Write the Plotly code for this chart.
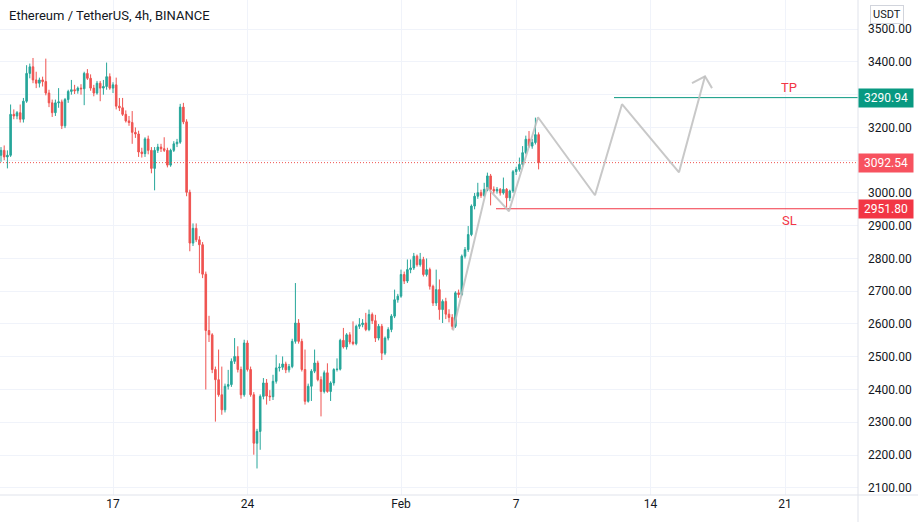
import pandas as pd
import plotly.graph_objects as go

# ---------------- data ----------------
first_candle = "2022-01-11 04:00"
opens = [3115,3130,3110,3115,3240,3235,3245,3225,3280,3365,3385,3345,3335,3345,3340,3305,3275,3245,3275,3278,
         3205,3285,3310,3315,3312,3320,3318,3365,3350,3320,3305,3335,3320,3325,3355,3320,
         3330,3265,3260,3240,3220,3215,3185,3180,3125,3120,3165,3130,3075,3130,3140,3135,3130,3085,3130,3150,
         3155,3262,3217,3002,2847,2892,2857,2842,2752,2580,2567,2461,2430,2384,2338,2410,2415,2486,2501,2461,
         2384,2542,2461,2384,2236,2272,2379,2420,2380,2378,2425,2466,2468,2478,2460,2470,2547,2603,2547,2461,
         2364,2410,2456,2481,2430,2394,2451,2394,2420,2461,2462,2550,2530,2567,2545,2540,2593,2598,2603,2583,
         2629,2610,2557,2593,2511,2557,2583,2624,2674,2685,2751,2731,2766,2771,2807,2781,2797,2751,2766,2715,
         2664,2705,2644,2669,2630,2620,2593,2695,2690,2807,2827,2873,2960,2990,3001,2992,3011,3052,3011,3006,
         3011,3000,3011,2985,3006,3065,3072,3087,3123,3164,3143,3154,3178]
highs = [3140,3145,3130,3270,3255,3250,3270,3290,3390,3395,3412,3370,3352,3355,3410,3315,3285,3285,3320,3285,
         3290,3315,3345,3330,3325,3332,3370,3378,3362,3330,3342,3342,3345,3398,3365,3338,
         3352,3290,3290,3252,3235,3250,3200,3190,3138,3170,3175,3140,3140,3150,3150,3170,3138,3135,3158,3165,
         3272,3275,3225,3010,2907,2907,2868,2850,2760,2625,2572,2470,2522,2470,2418,2460,2495,2557,2532,2470,
         2552,2550,2470,2392,2280,2385,2435,2432,2398,2445,2506,2480,2501,2485,2478,2555,2725,2615,2555,2522,
         2418,2462,2522,2488,2440,2458,2480,2425,2465,2495,2555,2588,2572,2575,2608,2598,2618,2615,2634,2644,
         2635,2628,2600,2600,2562,2590,2630,2705,2692,2766,2760,2797,2797,2817,2812,2817,2805,2800,2772,2720,
         2766,2736,2675,2680,2645,2630,2700,2705,2812,2835,2899,2965,3000,3031,3010,3031,3062,3058,3020,3018,
         3015,3047,3015,3010,3070,3080,3108,3143,3175,3189,3165,3230,3185]
lows = [3095,3100,3075,3110,3225,3225,3215,3215,3275,3350,3335,3320,3322,3325,3298,3262,3232,3235,3260,3195,
        3198,3275,3300,3302,3303,3300,3268,3345,3312,3295,3300,3280,3300,3315,3315,3305,
        3255,3250,3235,3215,3205,3150,3168,3110,3108,3110,3118,3060,3008,3122,3125,3125,3078,3080,3125,3140,
        3150,3210,2990,2822,2838,2850,2755,2740,2400,2545,2450,2302,2378,2323,2330,2400,2408,2478,2452,2372,
        2378,2455,2378,2201,2159,2216,2370,2354,2365,2368,2418,2455,2460,2450,2452,2465,2540,2540,2455,2354,
        2360,2365,2450,2425,2318,2388,2390,2365,2412,2455,2458,2525,2522,2538,2535,2535,2585,2590,2578,2578,
        2600,2545,2550,2490,2505,2550,2575,2618,2665,2680,2722,2725,2755,2765,2775,2775,2745,2745,2705,2655,
        2655,2613,2603,2615,2605,2583,2588,2680,2685,2800,2820,2868,2950,2982,2985,2988,3005,2962,2998,2998,
        2992,2995,2955,2975,3000,3055,3065,3080,3118,3138,3135,3148,3072]
closes = [3130,3110,3115,3240,3235,3245,3225,3280,3365,3385,3345,3335,3345,3340,3305,3275,3245,3275,3278,3205,
          3285,3310,3315,3312,3320,3318,3365,3350,3320,3305,3335,3320,3325,3355,3320,3330,
          3265,3260,3240,3220,3215,3185,3180,3125,3120,3165,3130,3075,3130,3140,3135,3130,3085,3130,3150,3155,
          3262,3217,3002,2847,2892,2857,2842,2752,2580,2567,2461,2430,2384,2338,2410,2415,2486,2501,2461,2384,
          2542,2461,2384,2236,2272,2379,2420,2380,2378,2425,2466,2468,2478,2460,2470,2547,2603,2547,2461,2364,
          2410,2456,2481,2430,2394,2451,2394,2420,2461,2462,2550,2530,2567,2545,2540,2593,2598,2603,2583,2629,
          2610,2557,2593,2511,2557,2583,2624,2674,2685,2751,2731,2766,2771,2807,2781,2797,2751,2766,2715,2664,
          2705,2644,2669,2630,2620,2593,2695,2690,2807,2827,2873,2960,2990,3001,2992,3011,3052,3011,3006,3011,
          3000,3011,2985,3006,3065,3072,3087,3123,3164,3143,3154,3178,3092.54]

last_price = 3092.54
tp_price = 3290.94
sl_price = 2951.80
tp_start = "2022-02-12 02:15"
sl_start = "2022-02-05 22:45"

# projected path (gray drawing)
path_times = ["2022-02-03 17:00", "2022-02-05 11:30", "2022-02-06 15:00", "2022-02-08 03:15",
              "2022-02-11 02:30", "2022-02-12 12:15", "2022-02-15 11:30", "2022-02-16 20:00"]
path_prices = [2580, 3017, 2944, 3231, 2993, 3271, 3063, 3356]
arrow_times = ["2022-02-16 03:45", "2022-02-16 20:00", "2022-02-17 04:45"]
arrow_prices = [3335, 3356, 3320]

date_ticks = ["2022-01-17", "2022-01-24", "2022-02-01", "2022-02-07", "2022-02-14", "2022-02-21"]
date_labels = ["17", "24", "Feb", "7", "14", "21"]
price_ticks = list(range(2100, 3600, 100))
hidden_price_labels = [3100, 3300]   # covered by the price tags in the reference

x_range = ["2022-01-11 02:45", "2022-02-24 19:15"]
y_range = [2078, 3589]

# ---------------- figure ----------------
times = pd.date_range(first_candle, periods=len(closes), freq="4h")

GREEN = "#26a69a"
RED = "#ef5350"
TEXT = "#131722"
GRID = "#f0f3fa"

fig = go.Figure()
fig.add_trace(go.Candlestick(
    x=times, open=opens, high=highs, low=lows, close=closes,
    increasing=dict(line=dict(color=GREEN, width=1), fillcolor=GREEN),
    decreasing=dict(line=dict(color=RED, width=1), fillcolor=RED),
    whiskerwidth=0, hoverinfo="skip", showlegend=False,
))

# current price dotted line
fig.add_trace(go.Scatter(x=x_range, y=[last_price, last_price], mode="lines",
                         line=dict(color=RED, width=1, dash="1px,2px"), hoverinfo="skip", showlegend=False))
# TP / SL lines
fig.add_trace(go.Scatter(x=[tp_start, x_range[1]], y=[tp_price, tp_price], mode="lines",
                         line=dict(color="#089981", width=1), hoverinfo="skip", showlegend=False))
fig.add_trace(go.Scatter(x=[sl_start, x_range[1]], y=[sl_price, sl_price], mode="lines",
                         line=dict(color="#f23645", width=1), hoverinfo="skip", showlegend=False))
# gray projection path
fig.add_trace(go.Scatter(x=path_times, y=path_prices, mode="lines",
                         line=dict(color="rgba(190,190,190,0.85)", width=2), hoverinfo="skip", showlegend=False))
fig.add_trace(go.Scatter(x=arrow_times, y=arrow_prices, mode="lines",
                         line=dict(color="rgba(190,190,190,0.85)", width=2), hoverinfo="skip", showlegend=False))

annotations = [
    dict(text="Ethereum / TetherUS, 4h, BINANCE", x=0, y=1, xref="paper", yref="paper",
         xanchor="left", yanchor="top", xshift=7, yshift=-6, showarrow=False,
         font=dict(family="Roboto", size=13, color=TEXT)),
    dict(text="TP", x="2022-02-21 05:00", y=3323, xref="x", yref="y", showarrow=False,
         font=dict(family="Roboto", size=13, color="#f23645")),
    dict(text="SL", x="2022-02-21 05:00", y=2916, xref="x", yref="y", showarrow=False,
         font=dict(family="Roboto", size=13, color="#f23645")),
    dict(text="USDT", x=1, y=1, xref="paper", yref="paper", xanchor="left", yanchor="top",
         xshift=12, yshift=-5, showarrow=False, bgcolor="white", bordercolor="#d1d4dc",
         borderwidth=1, borderpad=2, font=dict(family="Roboto", size=11, color=TEXT)),
]
for price, color in [(tp_price, "#089981"), (last_price, "#f7525f"), (sl_price, "#f23645")]:
    annotations.append(dict(text=f"{price:.2f}", x=1, y=price, xref="paper", yref="y",
                            xanchor="left", yanchor="middle", xshift=0, showarrow=False,
                            bgcolor=color, borderpad=2, width=50,
                            font=dict(family="Roboto", size=12, color="white")))

fig.update_layout(
    width=918, height=522,
    margin=dict(l=0, r=60, t=0, b=27),
    paper_bgcolor="white", plot_bgcolor="white",
    showlegend=False, hovermode=False,
    annotations=annotations,
    xaxis=dict(range=x_range, type="date", rangeslider=dict(visible=False),
               tickvals=date_ticks, ticktext=date_labels, showgrid=True, gridcolor=GRID,
               gridwidth=1, zeroline=False, showline=False, ticks="",
               tickfont=dict(family="Roboto", size=12, color=TEXT)),
    yaxis=dict(range=y_range, side="right", tickvals=price_ticks,
               ticktext=["" if v in hidden_price_labels else f"{v:.2f}" for v in price_ticks],
               showgrid=True, gridcolor=GRID,
               zeroline=False, showline=False, ticks="", ticklabelstandoff=9,
               tickfont=dict(family="Roboto", size=12, color=TEXT)),
    shapes=[
        dict(type="line", xref="paper", yref="paper", x0=1, x1=1, y0=-0.06, y1=1,
             line=dict(color="#e0e3eb", width=1)),
        dict(type="line", xref="paper", yref="paper", x0=0, x1=1.07, y0=0, y1=0,
             line=dict(color="#e0e3eb", width=1)),
    ],
)

fig.write_html("out.html", config={"displayModeBar": False},
               post_script="document.body.style.margin='0px';document.body.style.overflow='hidden';")
